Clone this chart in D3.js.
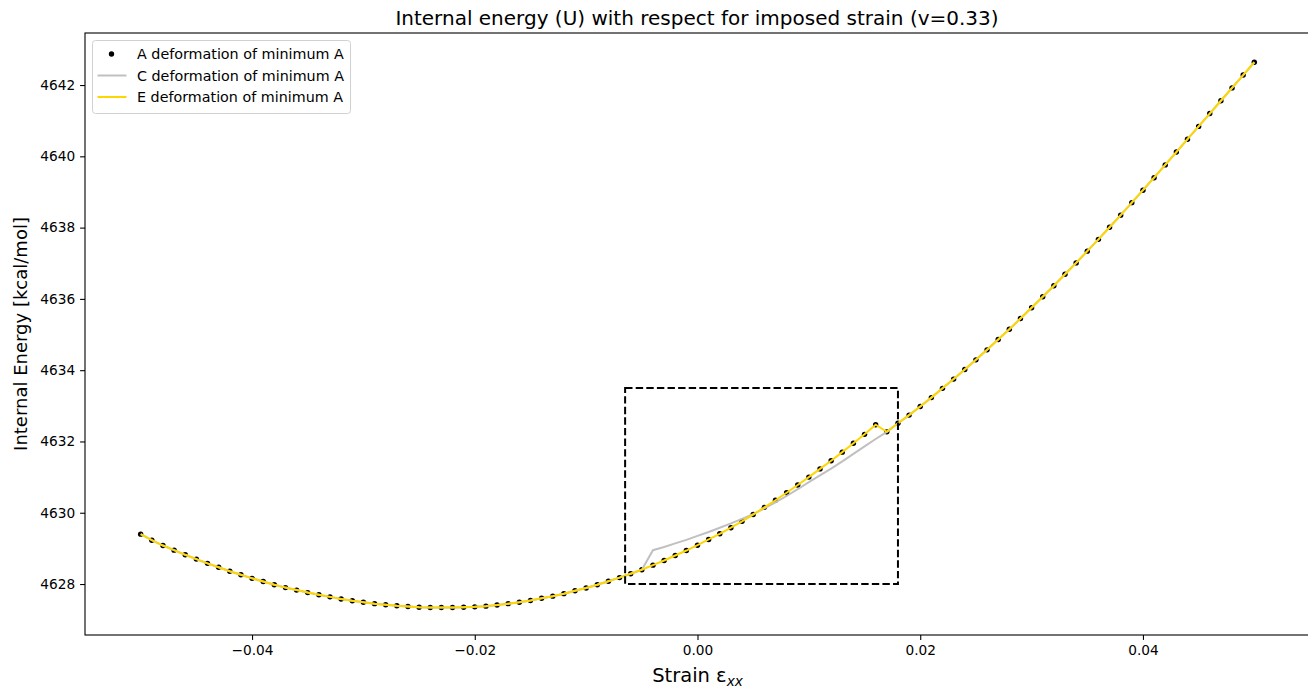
<!DOCTYPE html>
<html>
<head>
<meta charset="utf-8">
<script src="https://cdn.jsdelivr.net/npm/d3@7"></script>
<style>
  html, body { margin: 0; padding: 0; background: #fff; }
  svg { display: block; font-family: "DejaVu Sans", sans-serif; }
</style>
</head>
<body>
<svg id="chart" width="1308" height="691"></svg>
<script>
// ---- data ----
const strain = d3.range(101).map(i => +(-0.05 + i * 0.001).toFixed(3));
const energyA = [
  4629.40, 4629.23, 4629.08, 4628.95, 4628.82, 4628.70, 4628.58, 4628.47, 4628.36, 4628.26,
  4628.16, 4628.07, 4627.98, 4627.90, 4627.83, 4627.76, 4627.70, 4627.64, 4627.58, 4627.53,
  4627.49, 4627.45, 4627.42, 4627.39, 4627.37, 4627.35, 4627.34, 4627.34, 4627.34, 4627.35,
  4627.36, 4627.38, 4627.41, 4627.45, 4627.49, 4627.54, 4627.60, 4627.66, 4627.73, 4627.81,
  4627.89, 4627.98, 4628.08, 4628.18, 4628.29, 4628.40, 4628.53, 4628.66, 4628.80, 4628.94,
  4629.09, 4629.25, 4629.41, 4629.58, 4629.76, 4629.95, 4630.15, 4630.35, 4630.56, 4630.78,
  4631.00, 4631.23, 4631.46, 4631.70, 4631.95, 4632.20, 4632.47, 4632.27, 4632.51, 4632.74,
  4632.98, 4633.23, 4633.49, 4633.75, 4634.02, 4634.29, 4634.57, 4634.86, 4635.15, 4635.45,
  4635.75, 4636.06, 4636.37, 4636.69, 4637.01, 4637.34, 4637.67, 4638.01, 4638.35, 4638.70,
  4639.05, 4639.40, 4639.76, 4640.12, 4640.48, 4640.84, 4641.20, 4641.56, 4641.92, 4642.28,
  4642.64
];
const energyC = [
  4629.40, 4629.23, 4629.08, 4628.95, 4628.82, 4628.70, 4628.58, 4628.47, 4628.36, 4628.26,
  4628.16, 4628.07, 4627.98, 4627.90, 4627.83, 4627.76, 4627.70, 4627.64, 4627.58, 4627.53,
  4627.49, 4627.45, 4627.42, 4627.39, 4627.37, 4627.35, 4627.34, 4627.34, 4627.34, 4627.35,
  4627.36, 4627.38, 4627.41, 4627.45, 4627.49, 4627.54, 4627.60, 4627.66, 4627.73, 4627.81,
  4627.89, 4627.98, 4628.08, 4628.18, 4628.29, 4628.40, 4628.95, 4629.04, 4629.14, 4629.24,
  4629.35, 4629.46, 4629.58, 4629.70, 4629.83, 4629.96, 4630.12, 4630.29, 4630.47, 4630.66,
  4630.86, 4631.05, 4631.24, 4631.44, 4631.65, 4631.86, 4632.07, 4632.27, 4632.51, 4632.74,
  4632.98, 4633.23, 4633.49, 4633.75, 4634.02, 4634.29, 4634.57, 4634.86, 4635.15, 4635.45,
  4635.75, 4636.06, 4636.37, 4636.69, 4637.01, 4637.34, 4637.67, 4638.01, 4638.35, 4638.70,
  4639.05, 4639.40, 4639.76, 4640.12, 4640.48, 4640.84, 4641.20, 4641.56, 4641.92, 4642.28,
  4642.64
];
const energyE = energyA.slice();
const xTicks = [-0.04, -0.02, 0.00, 0.02, 0.04];
const yTicks = [4628, 4630, 4632, 4634, 4636, 4638, 4640, 4642];
const zoomBox = { x0: -0.0065, x1: 0.018, y0: 4628.0, y1: 4633.5 };
const seriesNames = ["A deformation of minimum A", "C deformation of minimum A", "E deformation of minimum A"];
const titleText = "Internal energy (U) with respect for imposed strain (v=0.33)";

// ---- layout ----
const svg = d3.select("#chart");
const L = 85, R = 1310, T = 33, B = 635;
const x = d3.scaleLinear().domain([-0.055, 0.055]).range([L, R]);
const y = d3.scaleLinear().domain([4626.57, 4643.46]).range([B, T]);

const fmtX = v => (v < 0 ? "\u2212" : "") + Math.abs(v).toFixed(2);

// clip
svg.append("defs").append("clipPath").attr("id", "clip")
  .append("rect").attr("x", L).attr("y", T).attr("width", R - L).attr("height", B - T);

const plot = svg.append("g").attr("clip-path", "url(#clip)");

// A dots
plot.append("g").selectAll("circle").data(strain).join("circle")
  .attr("cx", (d) => x(d)).attr("cy", (d, i) => y(energyA[i]))
  .attr("r", 2.7).attr("fill", "#000");

const line = arr => d3.line().x(d => x(d)).y((d, i) => y(arr[i]))(strain);
plot.append("path").attr("d", line(energyC)).attr("fill", "none")
  .attr("stroke", "#c0c0c0").attr("stroke-width", 2);
plot.append("path").attr("d", line(energyE)).attr("fill", "none")
  .attr("stroke", "#ffd700").attr("stroke-width", 2);

// dashed box
svg.append("rect")
  .attr("x", x(zoomBox.x0)).attr("y", y(zoomBox.y1))
  .attr("width", x(zoomBox.x1) - x(zoomBox.x0)).attr("height", y(zoomBox.y0) - y(zoomBox.y1))
  .attr("fill", "none").attr("stroke", "#000").attr("stroke-width", 2)
  .attr("stroke-dasharray", "7.4,3.2");

// axes
const xAxis = svg.append("g").attr("transform", `translate(0,${B})`)
  .call(d3.axisBottom(x).tickValues(xTicks).tickFormat(fmtX).tickSize(4.9).tickPadding(4.9));
const yAxis = svg.append("g").attr("transform", `translate(${L},0)`)
  .call(d3.axisLeft(y).tickValues(yTicks).tickFormat(d3.format("d")).tickSize(4.9).tickPadding(4.9));
[xAxis, yAxis].forEach(g => {
  g.select(".domain").remove();
  g.selectAll("line").attr("stroke", "#000").attr("stroke-width", 1.1);
  g.selectAll("text").attr("fill", "#000").style("font-size", "13.7px")
    .style("font-family", "DejaVu Sans");
});
// frame
svg.append("rect").attr("x", L).attr("y", T).attr("width", R - L).attr("height", B - T)
  .attr("fill", "none").attr("stroke", "#000").attr("stroke-width", 1.1);

// title & labels
svg.append("text").attr("x", (L + R) / 2 - 0.5).attr("y", 25).attr("text-anchor", "middle")
  .style("font-size", "20px").text(titleText);
svg.append("text").attr("transform", `translate(27,${(T + B) / 2}) rotate(-90)`)
  .attr("text-anchor", "middle").style("font-size", "18px").text("Internal Energy [kcal/mol]");
const xl = svg.append("text").attr("x", (L + R) / 2).attr("y", 682).attr("text-anchor", "middle")
  .style("font-size", "19.5px");
xl.append("tspan").text("Strain \u03b5");
xl.append("tspan").attr("dy", 4).style("font-size", "13.7px").style("font-style", "italic").text("xx");

// legend
const lg = svg.append("g");
lg.append("rect").attr("x", 92.5).attr("y", 40.5).attr("width", 258).attr("height", 73)
  .attr("rx", 3).attr("fill", "#fff").attr("fill-opacity", 0.8)
  .attr("stroke", "#d0d0d0").attr("stroke-width", 1);
const rowsY = [54, 75.5, 97];
lg.append("circle").attr("cx", 111.5).attr("cy", rowsY[0]).attr("r", 2.7).attr("fill", "#000");
lg.append("line").attr("x1", 97.5).attr("x2", 126.5).attr("y1", rowsY[1]).attr("y2", rowsY[1])
  .attr("stroke", "#c0c0c0").attr("stroke-width", 2);
lg.append("line").attr("x1", 97.5).attr("x2", 126.5).attr("y1", rowsY[2]).attr("y2", rowsY[2])
  .attr("stroke", "#ffd700").attr("stroke-width", 2);
seriesNames.forEach((s, i) => {
  lg.append("text").attr("x", 137).attr("y", rowsY[i] + 5).style("font-size", "14.3px").text(s);
});
</script>
</body>
</html>
